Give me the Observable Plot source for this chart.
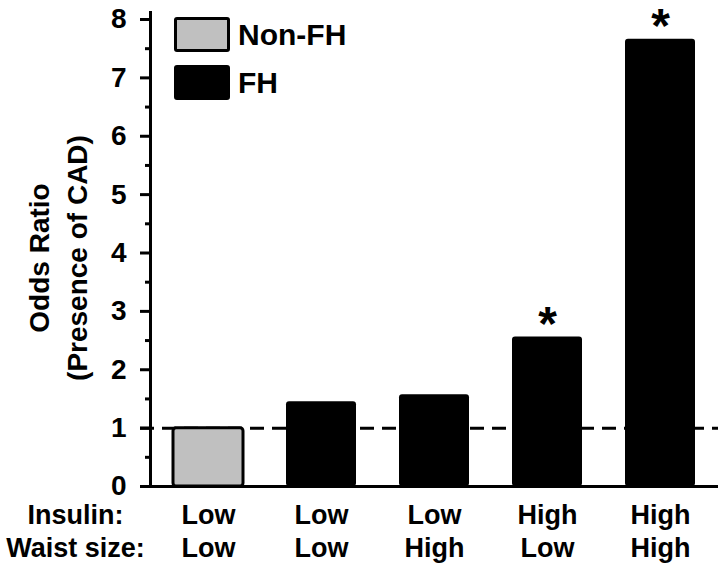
<!DOCTYPE html>
<html>
<head>
<meta charset="utf-8">
<script src="https://cdn.jsdelivr.net/npm/d3@7"></script>
<script src="https://cdn.jsdelivr.net/npm/@observablehq/plot@0.6"></script>
<style>
  html, body { margin: 0; padding: 0; background: #fff; }
  #wrap { position: relative; width: 720px; height: 576px; font-family: "Liberation Sans", Arial, sans-serif; font-weight: bold; }
  .legend { position: absolute; left: 174px; top: 17px; }
  .item { display: flex; align-items: center; height: 35px; margin-bottom: 13px; }
  .sw { width: 50px; height: 29px; border: 3px solid #000; border-radius: 3px; margin-right: 8px; }
  .lab { font-size: 30px; line-height: 35px; }
</style>
</head>
<body>
<div id="wrap"></div>
<script>
const categories = ["c1", "c2", "c3", "c4", "c5"];
const insulin = ["Low", "Low", "Low", "High", "High"];
const waist = ["Low", "Low", "High", "Low", "High"];
const oddsRatio = [1.0, 1.45, 1.57, 2.56, 7.66];
const group = ["Non-FH", "FH", "FH", "FH", "FH"];
const significant = [false, false, false, true, true];
const groups = ["Non-FH", "FH"];
const groupColors = ["#c0c0c0", "#000000"];
const yTicks = [0, 1, 2, 3, 4, 5, 6, 7, 8];
const yMinorTicks = [0.5, 1.5, 2.5, 3.5, 4.5, 5.5, 6.5, 7.5];
const rowLabels = ["Insulin:", "Waist size:"];
const yLabel = "Odds Ratio\n(Presence of CAD)";

const data = categories.map((c, i) => ({
  cat: c, insulin: insulin[i], waist: waist[i], value: oddsRatio[i],
  group: group[i], sig: significant[i]
}));

const font = '"Liberation Sans", Arial, sans-serif';

const plot = Plot.plot({
  width: 720,
  height: 576,
  marginLeft: 150,
  marginRight: 2,
  marginTop: 12,
  marginBottom: 90,
  style: { fontFamily: font, fontWeight: "bold", color: "#000", background: "#fff", overflow: "visible" },
  x: { domain: categories, paddingInner: 0.38, paddingOuter: 0.19, axis: null },
  y: { domain: [0, 8.12], axis: null },
  color: { domain: groups, range: groupColors },
  marks: [
    Plot.ruleY([1], { stroke: "#000", strokeWidth: 3, strokeDasharray: "14,8", insetLeft: -10 }),
    Plot.barY(data, { x: "cat", y: "value", fill: "group", stroke: "#000",
      strokeWidth: d => d.group === "Non-FH" ? 3 : 0, rx: 3 }),
    Plot.frame({ anchor: "left", stroke: "#000", strokeWidth: 3 }),
    Plot.ruleY([0], { stroke: "#000", strokeWidth: 3 }),
    Plot.axisY({ ticks: yTicks, tickSize: 10, tickPadding: 14, tickFormat: d => d, fontSize: 28,
      strokeWidth: 3, label: null }),
    Plot.axisY({ ticks: yMinorTicks, tickSize: 5, text: null, strokeWidth: 3, label: null }),
    Plot.text(data.filter(d => d.sig), { x: "cat", y: "value", text: () => "*", fontSize: 48,
      lineAnchor: "top", dy: -31, fill: "#000" }),
    Plot.text(data, { x: "cat", y: 0, text: "insulin", fontSize: 27, dy: 29, fill: "#000" }),
    Plot.text(data, { x: "cat", y: 0, text: "waist", fontSize: 27, dy: 62, fill: "#000" }),
    Plot.text([rowLabels[0]], { frameAnchor: "left", y: 0, text: d => d, fontSize: 27, dx: -75, dy: 29, textAnchor: "middle", fill: "#000" }),
    Plot.text([rowLabels[1]], { frameAnchor: "left", y: 0, text: d => d, fontSize: 27, dx: -75, dy: 62, textAnchor: "middle", fill: "#000" }),
    Plot.text([yLabel], { frameAnchor: "left", y: 4, text: d => d, fontSize: 28, rotate: -90,
      dx: -95, dy: 5, lineHeight: 1.36, textAnchor: "middle", lineAnchor: "middle", fill: "#000" })
  ]
});

const wrap = document.getElementById("wrap");
wrap.appendChild(plot);

const legend = document.createElement("div");
legend.className = "legend";
groups.forEach((g, i) => {
  const item = document.createElement("div");
  item.className = "item";
  const sw = document.createElement("div");
  sw.className = "sw";
  sw.style.background = groupColors[i];
  const lab = document.createElement("span");
  lab.className = "lab";
  lab.textContent = g;
  item.appendChild(sw);
  item.appendChild(lab);
  legend.appendChild(item);
});
wrap.appendChild(legend);
</script>
</body>
</html>
